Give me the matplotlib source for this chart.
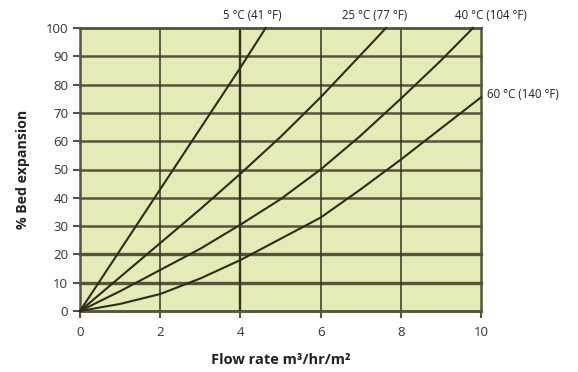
import matplotlib
matplotlib.use("Agg")
import matplotlib.pyplot as plt

# Data
x_5c = [0, 1, 2, 3, 4, 4.63]
y_5c = [0, 21.5, 43, 64.5, 86, 100]

x_25c = [0, 1, 2, 3, 4, 5, 6, 7, 7.63]
y_25c = [0, 12, 24, 36, 48.5, 61.5, 75.5, 90.5, 100]

x_40c = [0, 1, 2, 3, 4, 5, 6, 7, 8, 9, 9.8]
y_40c = [0, 7, 14.5, 22, 30.5, 39.5, 50, 62, 75, 88.5, 100]

x_60c = [0, 1, 2, 3, 4, 5, 6, 7, 8, 9, 10]
y_60c = [0, 2.5, 6, 11.5, 18, 25.5, 33, 43, 53.5, 64.5, 75.5]

series_labels = ["5 \u00b0C (41 \u00b0F)", "25 \u00b0C (77 \u00b0F)", "40 \u00b0C (104 \u00b0F)", "60 \u00b0C (140 \u00b0F)"]
x_ticks = [0, 2, 4, 6, 8, 10]
y_ticks = [0, 10, 20, 30, 40, 50, 60, 70, 80, 90, 100]

plt.rcParams['font.family'] = ['Open Sans', 'DejaVu Sans']

fig = plt.figure(figsize=(5.78, 3.72), dpi=100)
ax = fig.add_axes([80/578, 61/372, 401/578, 283/372])
ax.set_facecolor('#e4ebb7')
ax.set_xlim(0, 10)
ax.set_ylim(0, 100)

grid_h = '#55553c'
grid_v = '#35351f'
for y in y_ticks:
    ax.axhline(y, color=grid_h, lw=2.4 if y in (10, 20) else 1.8, zorder=1, clip_on=False)
for x in x_ticks[1:-1]:
    ax.axvline(x, color=grid_v, lw=1.7 if x == 4 else 1.1, zorder=1)

line_color = '#2c2c18'
for xs, ys in [(x_5c, y_5c), (x_25c, y_25c), (x_40c, y_40c), (x_60c, y_60c)]:
    ax.plot(xs, ys, color=line_color, lw=1.5, zorder=3, clip_on=False,
            solid_joinstyle='round')

for s in ax.spines.values():
    s.set_color('#55553c')
    s.set_linewidth(1.8)

ax.set_xticks(x_ticks)
ax.set_yticks(y_ticks)
ax.tick_params(axis='both', colors='#55553c', width=1.5, length=5, labelsize=9.5, labelcolor='#333333')
ax.tick_params(axis='x', pad=6)

ax.set_xlabel("Flow rate m\u00b3/hr/m\u00b2", fontsize=10.5, fontweight='bold', color='#222222', labelpad=10)
ax.set_ylabel("% Bed expansion", fontsize=10.2, fontweight='bold', color='#222222', labelpad=11)

lab_kw = dict(fontsize=8.3, color='#222222')
ax.text(4.3, 102.0, series_labels[0], ha='center', va='bottom', **lab_kw)
ax.text(7.35, 102.0, series_labels[1], ha='center', va='bottom', **lab_kw)
ax.text(10.25, 102.0, series_labels[2], ha='center', va='bottom', **lab_kw)
ax.text(10.15, 76.5, series_labels[3], ha='left', va='center', **lab_kw)

fig.savefig("out.png", dpi=100)
